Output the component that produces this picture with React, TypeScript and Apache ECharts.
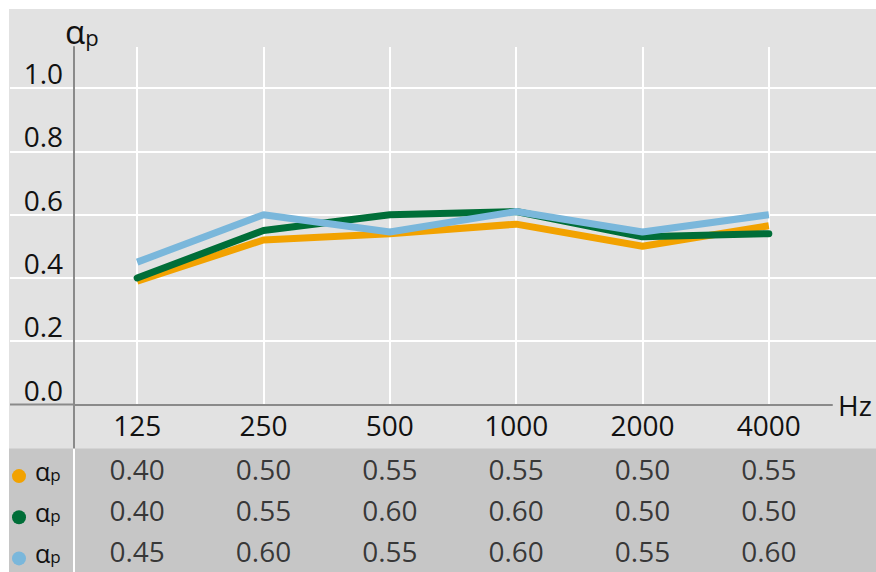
import React, { useEffect, useRef } from "react";
import * as echarts from "echarts";

const categories = ["125", "250", "500", "1000", "2000", "4000"];
const yTicks = [0, 0.2, 0.4, 0.6, 0.8, 1.0];

// plotted curves
const lineOrange = [0.39, 0.52, 0.54, 0.57, 0.5, 0.565];
const lineGreen = [0.4, 0.55, 0.6, 0.61, 0.53, 0.54];
const lineBlue = [0.45, 0.6, 0.545, 0.61, 0.545, 0.6];

// table values (printed under the chart)
const tableOrange = [0.4, 0.5, 0.55, 0.55, 0.5, 0.55];
const tableGreen = [0.4, 0.55, 0.6, 0.6, 0.5, 0.5];
const tableBlue = [0.45, 0.6, 0.55, 0.6, 0.55, 0.6];

const rowKeys = ["orange", "green", "blue"];
const rowColors = ["#f2a200", "#006e38", "#7ab7db"];

const FONT = "'Open Sans', sans-serif";

export default function App() {
  const ref = useRef<HTMLDivElement>(null);

  useEffect(() => {
    if (!ref.current) return;
    const chart = echarts.init(ref.current, null, { renderer: "svg" });

    const W = 867;
    const H = 563;
    const G_LEFT = 65;
    const G_RIGHT = 44;
    const G_TOP = 38;
    const G_BOTTOM = 167.5;
    const T_TOP = 439.5;
    const axisY = H - G_BOTTOM;
    const axisColor = "#8a8a8a";

    const tables = [tableOrange, tableGreen, tableBlue];
    const tableData: any[] = [];
    tables.forEach((row, r) => {
      row.forEach((v, i) => tableData.push([i, r, v]));
    });

    const dot = (c: string) => ({
      width: 14,
      height: 14,
      borderRadius: 7,
      backgroundColor: c,
      verticalAlign: "bottom",
    });

    const option: any = {
      animation: false,
      backgroundColor: "#e2e2e2",
      textStyle: { fontFamily: FONT },
      title: {
        text: "{a|α}{p|p}",
        left: 56,
        top: 3,
        padding: 0,
        textStyle: {
          fontWeight: "normal",
          rich: {
            a: { fontSize: 33, fontWeight: "normal", fontFamily: FONT, color: "#111", verticalAlign: "bottom", lineHeight: 36 },
            p: { fontSize: 22, fontWeight: "normal", fontFamily: FONT, color: "#111", verticalAlign: "bottom", lineHeight: 30 },
          },
        },
      },
      graphic: [
        {
          type: "rect",
          z: -10,
          silent: true,
          shape: { x: 0, y: T_TOP, width: W, height: H - T_TOP },
          style: { fill: "#c6c6c6" },
        },
        {
          type: "line",
          silent: true,
          z: 10,
          shape: { x1: 1, y1: axisY, x2: G_LEFT, y2: axisY },
          style: { stroke: axisColor, lineWidth: 2 },
        },
        {
          type: "line",
          silent: true,
          z: 10,
          shape: { x1: G_LEFT, y1: axisY, x2: G_LEFT, y2: T_TOP },
          style: { stroke: axisColor, lineWidth: 2 },
        },
      ],
      grid: [
        { left: 1, right: 0, top: G_TOP, bottom: G_BOTTOM },
        { left: G_LEFT, right: G_RIGHT, top: G_TOP, bottom: G_BOTTOM },
        { left: G_LEFT, right: G_RIGHT, top: T_TOP, bottom: 0 },
      ],
      xAxis: [
        { gridIndex: 0, type: "value", min: 0, max: 1, show: false },
        {
          gridIndex: 1,
          type: "category",
          data: categories,
          boundaryGap: true,
          axisLine: { show: true, lineStyle: { color: axisColor, width: 2 } },
          axisTick: { show: false },
          axisLabel: { fontSize: 28, color: "#111", margin: 6, fontFamily: FONT },
          splitLine: { show: true, alignWithLabel: true, lineStyle: { color: "#ffffff", width: 2 } },
          name: "Hz",
          nameLocation: "end",
          nameGap: 6,
          nameTextStyle: { fontSize: 28, color: "#111", fontFamily: FONT },
        },
        {
          gridIndex: 2,
          type: "category",
          data: categories,
          boundaryGap: true,
          show: false,
        },
      ],
      yAxis: [
        {
          gridIndex: 0,
          type: "value",
          min: 0,
          max: 1.13,
          interval: 0.2,
          axisLine: { show: false },
          axisTick: { show: false },
          axisLabel: { show: false },
          splitLine: {
            show: true,
            showMinLine: false,
            showMaxLine: false,
            lineStyle: { color: "#ffffff", width: 2 },
          },
        },
        {
          gridIndex: 1,
          type: "value",
          min: 0,
          max: 1.13,
          interval: 0.2,
          axisLine: { show: true, lineStyle: { color: axisColor, width: 2 } },
          axisTick: { show: false },
          splitLine: { show: false },
          axisLabel: {
            showMaxLabel: false,
            fontSize: 28,
            color: "#111",
            margin: 11,
            verticalAlign: "bottom",
            lineHeight: 30,
            fontFamily: FONT,
            formatter: (v: number) => (yTicks.some((t) => Math.abs(t - v) < 1e-6) ? v.toFixed(1) : ""),
          },
        },
        {
          gridIndex: 2,
          type: "category",
          data: rowKeys,
          inverse: true,
          boundaryGap: true,
          axisLine: { show: true, lineStyle: { color: "#ffffff", width: 2 } },
          axisTick: { show: false },
          splitLine: { show: false },
          axisLabel: {
            align: "left",
            margin: 62,
            formatter: (v: string) => `{d${rowKeys.indexOf(v)}|}{sp|}{a|α}{p|p}`,
            rich: {
              d0: dot(rowColors[0]),
              d1: dot(rowColors[1]),
              d2: dot(rowColors[2]),
              sp: { width: 9 },
              a: { fontSize: 25, color: "#111", fontFamily: FONT, verticalAlign: "bottom", lineHeight: 28 },
              p: { fontSize: 17, color: "#111", fontFamily: FONT, verticalAlign: "bottom", lineHeight: 24 },
            },
          },
        },
      ],
      series: [
        {
          type: "line",
          name: "orange",
          xAxisIndex: 1,
          yAxisIndex: 1,
          data: lineOrange,
          symbol: "none",
          lineStyle: { color: rowColors[0], width: 7 },
          z: 3,
        },
        {
          type: "line",
          name: "green",
          xAxisIndex: 1,
          yAxisIndex: 1,
          data: lineGreen,
          symbol: "none",
          lineStyle: { color: rowColors[1], width: 7, cap: "round" },
          z: 4,
        },
        {
          type: "line",
          name: "blue",
          xAxisIndex: 1,
          yAxisIndex: 1,
          data: lineBlue,
          symbol: "none",
          lineStyle: { color: rowColors[2], width: 7 },
          z: 5,
        },
        {
          type: "scatter",
          xAxisIndex: 2,
          yAxisIndex: 2,
          data: tableData,
          symbolSize: 1,
          itemStyle: { color: "rgba(0,0,0,0)" },
          label: {
            show: true,
            position: "inside",
            fontSize: 28,
            color: "#111",
            fontFamily: FONT,
            formatter: (p: any) => Number(p.value[2]).toFixed(2),
          },
        },
      ],
    };

    chart.setOption(option);
    return () => chart.dispose();
  }, []);

  return (
    <div
      ref={ref}
      style={{ position: "absolute", left: 9, top: 9, width: 867, height: 563 }}
    />
  );
}
